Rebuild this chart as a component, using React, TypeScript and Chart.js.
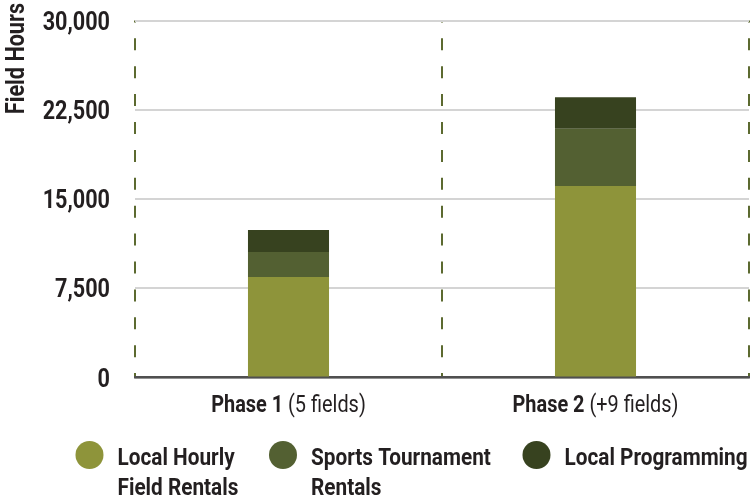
import React, { useEffect, useRef } from 'react';
import { Chart, registerables } from 'chart.js';

Chart.register(...registerables);

// ---- data ----
const categories = ['Phase 1', 'Phase 2'];
const categoryNotes = ['(5 fields)', '(+9 fields)'];
const seriesLabels = [['Local Hourly', 'Field Rentals'], ['Sports Tournament', 'Rentals'], ['Local Programming']];
const localHourly = [8450, 16100];
const sportsTournament = [2100, 4800];
const localProgramming = [1850, 2650];
const yTickValues = [0, 7500, 15000, 22500, 30000];
const yTitle = 'Field Hours';

// ---- styles ----
const COLORS = ['#8E943A', '#536032', '#37421F'];
const TEXT = '#231f20';
const SX = 0.865;
const FAMILY = 'Roboto, "Noto Sans", sans-serif';
const LEGEND_CX = [89.5, 283, 536.5];

function condText(ctx: CanvasRenderingContext2D, text: string, x: number, y: number, font: string, align: CanvasTextAlign) {
  ctx.save();
  ctx.font = font;
  ctx.textAlign = align;
  ctx.textBaseline = 'alphabetic';
  ctx.translate(x, y);
  ctx.scale(SX, 1);
  ctx.fillText(text, 0, 0);
  ctx.restore();
}
function condWidth(ctx: CanvasRenderingContext2D, text: string, font: string) {
  ctx.save();
  ctx.font = font;
  const w = ctx.measureText(text).width * SX;
  ctx.restore();
  return w;
}

const textPlugin = {
  id: 'customText',
  afterDraw(chart: any) {
    const ctx: CanvasRenderingContext2D = chart.ctx;
    const xs = chart.scales.x;
    const ys = chart.scales.y;
    const area = chart.chartArea;
    ctx.save();
    ctx.fillStyle = TEXT;
    // y tick labels
    ys.ticks.forEach((t: any) => {
      const py = ys.getPixelForValue(t.value);
      condText(ctx, Number(t.value).toLocaleString('en-US'), area.left - 25, py + 9, `bold 25px ${FAMILY}`, 'right');
    });
    // y title (rotated)
    ctx.save();
    ctx.translate(24, 3);
    ctx.rotate(-Math.PI / 2);
    ctx.font = `bold 25px ${FAMILY}`;
    ctx.textAlign = 'right';
    ctx.textBaseline = 'alphabetic';
    ctx.scale(SX, 1);
    ctx.fillText(yTitle, 0, 0);
    ctx.restore();
    // x labels
    const bFont = `bold 23px ${FAMILY}`;
    const nFont = `23px ${FAMILY}`;
    categories.forEach((c, i) => {
      const cx = xs.getPixelForValue(i);
      const note = ' ' + categoryNotes[i];
      const wb = condWidth(ctx, c, bFont);
      const wn = condWidth(ctx, note, nFont);
      const start = cx - (wb + wn) / 2;
      condText(ctx, c, start, area.bottom + 34, bFont, 'left');
      condText(ctx, note, start + wb, area.bottom + 34, nFont, 'left');
    });
    // legend
    const lFont = `bold 24px ${FAMILY}`;
    seriesLabels.forEach((lines, i) => {
      const cx = LEGEND_CX[i];
      ctx.beginPath();
      ctx.fillStyle = COLORS[i];
      ctx.arc(cx, 455, 14, 0, Math.PI * 2);
      ctx.fill();
      ctx.fillStyle = TEXT;
      lines.forEach((ln, j) => {
        condText(ctx, ln, cx + 28, 465 + j * 30, lFont, 'left');
      });
    });
    ctx.restore();
  },
};

export default function App() {
  const ref = useRef<HTMLCanvasElement | null>(null);
  useEffect(() => {
    document.body.style.margin = '0';
    if (!ref.current) return;
    const chart = new Chart(ref.current, {
      type: 'bar',
      data: {
        labels: categories,
        datasets: [
          { label: seriesLabels[0].join(' '), data: localHourly, backgroundColor: COLORS[0] },
          { label: seriesLabels[1].join(' '), data: sportsTournament, backgroundColor: COLORS[1] },
          { label: seriesLabels[2].join(' '), data: localProgramming, backgroundColor: COLORS[2] },
        ],
      },
      options: {
        animation: false,
        responsive: true,
        maintainAspectRatio: false,
        layout: { padding: { top: 20.5, right: 3, left: 0, bottom: 0 } },
        plugins: {
          legend: { display: false },
          tooltip: { enabled: false },
        },
        datasets: { bar: { categoryPercentage: 1, barPercentage: 0.264 } },
        scales: {
          x: {
            stacked: true,
            grid: { display: true, offset: true, color: '#5c6a30', lineWidth: 2, drawTicks: false },
            border: { display: true, color: '#505050', width: 2.5, dash: [12, 15.9], dashOffset: 10.1 },
            ticks: { display: false },
            afterFit: (s: any) => { s.height = 120.5; },
          },
          y: {
            stacked: true,
            min: 0,
            max: 30000,
            grid: { color: '#d4d4d4', lineWidth: 2, drawTicks: false },
            border: { display: false },
            ticks: { display: false },
            afterBuildTicks: (s: any) => { s.ticks = yTickValues.map((v) => ({ value: v })); },
            afterFit: (s: any) => { s.width = 135; },
          },
        },
      } as any,
      plugins: [textPlugin],
    });
    return () => chart.destroy();
  }, []);
  return (
    <div style={{ width: 752, height: 498, position: 'relative' }}>
      <canvas ref={ref} />
    </div>
  );
}
